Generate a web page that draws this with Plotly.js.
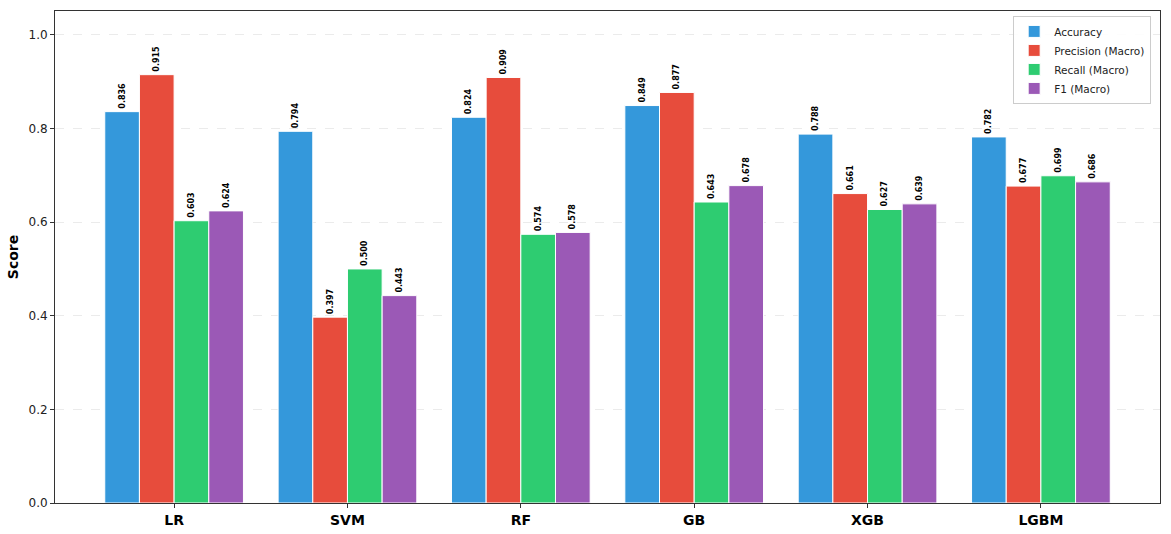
<!DOCTYPE html>
<html>
<head>
<meta charset="utf-8">
<script src="https://cdn.plot.ly/plotly-3.0.1.min.js"></script>
<style>
  html, body { margin: 0; padding: 0; background: #fff; }
  #myChart { width: 1171px; height: 534px; }
</style>
</head>
<body>
<div id="myChart"></div>
<script>
var models = ['LR', 'SVM', 'RF', 'GB', 'XGB', 'LGBM'];
var accuracy = [0.836, 0.794, 0.824, 0.849, 0.788, 0.782];
var precision = [0.915, 0.397, 0.909, 0.877, 0.661, 0.677];
var recall = [0.603, 0.500, 0.574, 0.643, 0.627, 0.699];
var f1 = [0.624, 0.443, 0.578, 0.678, 0.639, 0.686];
var metricNames = ['Accuracy', 'Precision (Macro)', 'Recall (Macro)', 'F1 (Macro)'];
var colors = ['#3498db', '#e74c3c', '#2ecc71', '#9b59b6'];

function make_trace(vals, i) {
    return {
        x: models,
        y: vals,
        name: metricNames[i],
        type: 'bar',
        marker: { color: colors[i], line: { color: '#ffffff', width: 1 } },
        text: vals.map(function (v) { return v.toFixed(3); }),
        textposition: 'outside',
        textangle: -90,
        constraintext: 'none',
        cliponaxis: false,
        textfont: { family: 'DejaVu Sans', size: 8, color: '#000', weight: 'bold' },
        hoverinfo: 'x+y+name'
    };
}

var data = [accuracy, precision, recall, f1].map(make_trace);

var layout = {
    width: 1171,
    height: 534,
    margin: { l: 55, r: 11, t: 11, b: 31 },
    paper_bgcolor: '#fff',
    plot_bgcolor: '#fff',
    barmode: 'group',
    bargap: 0.2,
    bargroupgap: 0,
    font: { family: 'DejaVu Sans', size: 11, color: '#222' },
    showlegend: true,
    legend: {
        x: 0.992, y: 0.99, xanchor: 'right', yanchor: 'top',
        bgcolor: 'rgba(255,255,255,0.9)', bordercolor: '#cccccc', borderwidth: 1,
        font: { size: 10.5, color: '#222' },
        tracegroupgap: 0
    },
    xaxis: {
        range: [-0.687, 5.687],
        showline: true, linecolor: '#333', linewidth: 1, mirror: true,
        ticks: 'outside', ticklen: 4, tickcolor: '#333',
        tickfont: { size: 14, color: '#000', weight: 'bold' },
        showgrid: false
    },
    yaxis: {
        range: [0, 1.051],
        tickvals: [0, 0.2, 0.4, 0.6, 0.8, 1.0],
        tickformat: '.1f',
        showline: true, linecolor: '#333', linewidth: 1, mirror: true,
        ticks: 'outside', ticklen: 4, tickcolor: '#333',
        tickfont: { size: 12, color: '#222' },
        showgrid: true, gridcolor: '#ebebeb', griddash: 'dash', gridwidth: 1,
        zeroline: false,
        title: { text: 'Score', font: { size: 14, color: '#000', weight: 'bold' }, standoff: 6 }
    }
};

Plotly.newPlot('myChart', data, layout, { displayModeBar: false, staticPlot: true });
</script>
</body>
</html>
